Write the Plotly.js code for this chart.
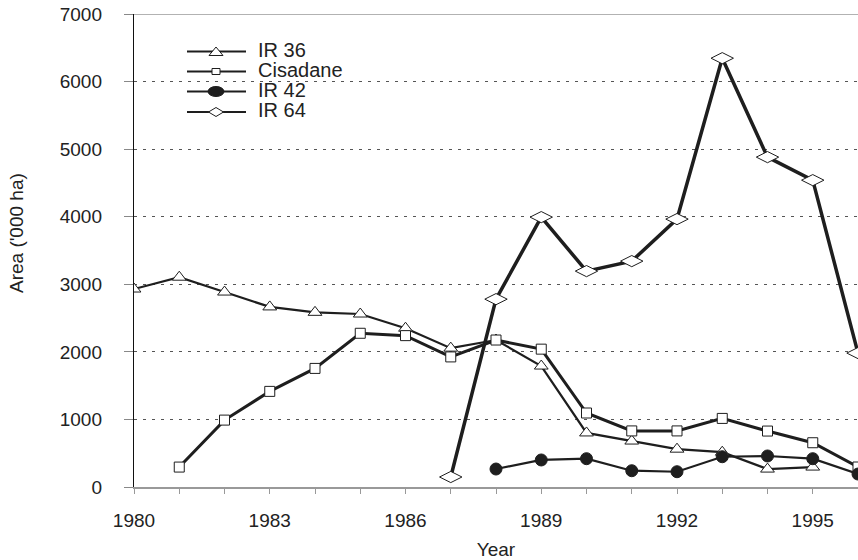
<!DOCTYPE html>
<html>
<head>
<meta charset="utf-8">
<script src="https://cdn.plot.ly/plotly-3.0.1.min.js"></script>
<style>html,body{margin:0;padding:0;background:#fff;}#chart{width:858px;height:560px;}</style>
</head>
<body>
<div id="chart"></div>
<script>
// Data (values in '000 ha)
var yearsIR36 = [1980,1981,1982,1983,1984,1985,1986,1987,1988,1989,1990,1991,1992,1993,1994,1995];
var valsIR36  = [2930,3105,2885,2665,2585,2560,2350,2055,2175,1790,800,680,560,515,265,295];

var yearsCisadane = [1981,1982,1983,1984,1985,1986,1987,1988,1989,1990,1991,1992,1993,1994,1995,1996];
var valsCisadane  = [295,990,1415,1755,2275,2240,1925,2175,2040,1095,830,830,1015,828,655,296];

var yearsIR42 = [1988,1989,1990,1991,1992,1993,1994,1995,1996];
var valsIR42  = [266,400,419,241,226,448,459,419,192];

var yearsIR64 = [1987,1988,1989,1990,1991,1992,1993,1994,1995,1996];
var valsIR64  = [148,2780,3994,3195,3343,3965,6346,4882,4541,1982];

var seriesNames = ['IR 36','Cisadane','IR 42','IR 64'];
var yTicks = [0,1000,2000,3000,4000,5000,6000,7000];
var xTicks = [1980,1983,1986,1989,1992,1995];

var ink = '#1e1e1e';
var font = 'Liberation Sans, Arial, sans-serif';

var M = {l: 134, r: 0, t: 14, b: 73};
var W = 858, H = 560;
var pw = W - M.l - M.r, ph = H - M.t - M.b;
function px(x) { return (x - M.l) / pw; }
function py(y) { return (H - M.b - y) / ph; }

var traces = [
  {x: yearsIR36, y: valsIR36, name: seriesNames[0], mode: 'lines+markers',
   line: {color: ink, width: 2.2},
   marker: {symbol: 'triangle-up', size: 12, color: '#fff', line: {color: ink, width: 1}}},
  {x: yearsCisadane, y: valsCisadane, name: seriesNames[1], mode: 'lines+markers',
   line: {color: ink, width: 3},
   marker: {symbol: 'square', size: 10, color: '#fff', line: {color: ink, width: 1}}},
  {x: yearsIR42, y: valsIR42, name: seriesNames[2], mode: 'lines+markers',
   line: {color: ink, width: 2.2},
   marker: {symbol: 'circle', size: 12, color: ink, line: {color: ink, width: 1}}},
  {x: yearsIR64, y: valsIR64, name: seriesNames[3], mode: 'lines+markers',
   line: {color: ink, width: 3.5},
   marker: {symbol: 'diamond-wide', size: 16, color: '#fff', line: {color: ink, width: 1}}}
];

// Hand-drawn legend (compact spacing like the original)
var legRows = [51.5, 71.5, 91.5, 112];
var legX0 = 187, legX1 = 246, legMx = 216, legTx = 256;
var legLineW = [2, 2, 2, 2];
var shapes = [
  {type: 'line', xref: 'paper', yref: 'y', x0: 0, x1: 1, y0: 7000, y1: 7000,
   line: {color: '#999', width: 1.5}}
];
var annotations = [
  {text: "Area ('000 ha)", xref: 'paper', yref: 'paper', x: px(16), y: py(233),
   xanchor: 'center', yanchor: 'middle', textangle: -90, showarrow: false,
   font: {family: font, size: 19, color: '#222'}}
];
function pathFrom(pts) {
  return 'M' + pts.map(function (p) { return px(p[0]) + ',' + py(p[1]); }).join(' L') + ' Z';
}
legRows.forEach(function (r, i) {
  shapes.push({type: 'line', xref: 'paper', yref: 'paper', x0: px(legX0), x1: px(legX1),
               y0: py(r), y1: py(r), line: {color: ink, width: legLineW[i]}});
  var mk;
  if (i === 0) {
    mk = {type: 'path', path: pathFrom([[legMx - 7, r + 4], [legMx + 7, r + 4], [legMx, r - 4.5]])};
  } else if (i === 1) {
    mk = {type: 'rect', x0: px(legMx - 4), x1: px(legMx + 4), y0: py(r - 3), y1: py(r + 3)};
  } else if (i === 2) {
    mk = {type: 'circle', x0: px(legMx - 8), x1: px(legMx + 8), y0: py(r - 5), y1: py(r + 5)};
  } else {
    mk = {type: 'path', path: pathFrom([[legMx - 7.5, r], [legMx, r - 4.5], [legMx + 7.5, r], [legMx, r + 4.5]])};
  }
  mk.xref = 'paper'; mk.yref = 'paper';
  mk.fillcolor = (i === 2) ? ink : '#fff';
  mk.line = {color: ink, width: 1};
  mk.layer = 'above';
  shapes.push(mk);
  annotations.push({text: seriesNames[i], xref: 'paper', yref: 'paper', x: px(legTx), y: py(r - 1.5),
                    xanchor: 'left', yanchor: 'middle', showarrow: false,
                    font: {family: font, size: 20, color: '#222'}});
});

var layout = {
  width: W, height: H,
  margin: M,
  paper_bgcolor: '#fff', plot_bgcolor: '#fff',
  font: {family: font, size: 19, color: '#222'},
  showlegend: false,
  xaxis: {
    range: [1980, 1996], tickvals: xTicks, ticktext: xTicks.map(String),
    showgrid: false, zeroline: false,
    showline: true, linecolor: '#999', linewidth: 1.5,
    ticks: 'outside', ticklen: 5, tickcolor: '#999',
    minor: {dtick: 1, tick0: 1980, ticks: 'outside', ticklen: 5, tickcolor: '#999', showgrid: false},
    ticklabelstandoff: 11,
    tickfont: {family: font, size: 19, color: '#222'},
    title: {text: 'Year', font: {family: font, size: 19, color: '#222'}, standoff: 16}
  },
  yaxis: {
    range: [0, 7000], tickvals: yTicks, ticktext: yTicks.map(String),
    showgrid: true, gridcolor: '#555', griddash: '3px,6px', gridwidth: 1,
    zeroline: false,
    showline: true, linecolor: '#111', linewidth: 1.2,
    ticks: 'outside', ticklen: 9, tickcolor: '#888',
    ticklabelstandoff: 18,
    tickfont: {family: font, size: 19, color: '#222'}
  },
  shapes: shapes,
  annotations: annotations
};

Plotly.newPlot('chart', traces, layout, {displayModeBar: false, staticPlot: true});
</script>
</body>
</html>
